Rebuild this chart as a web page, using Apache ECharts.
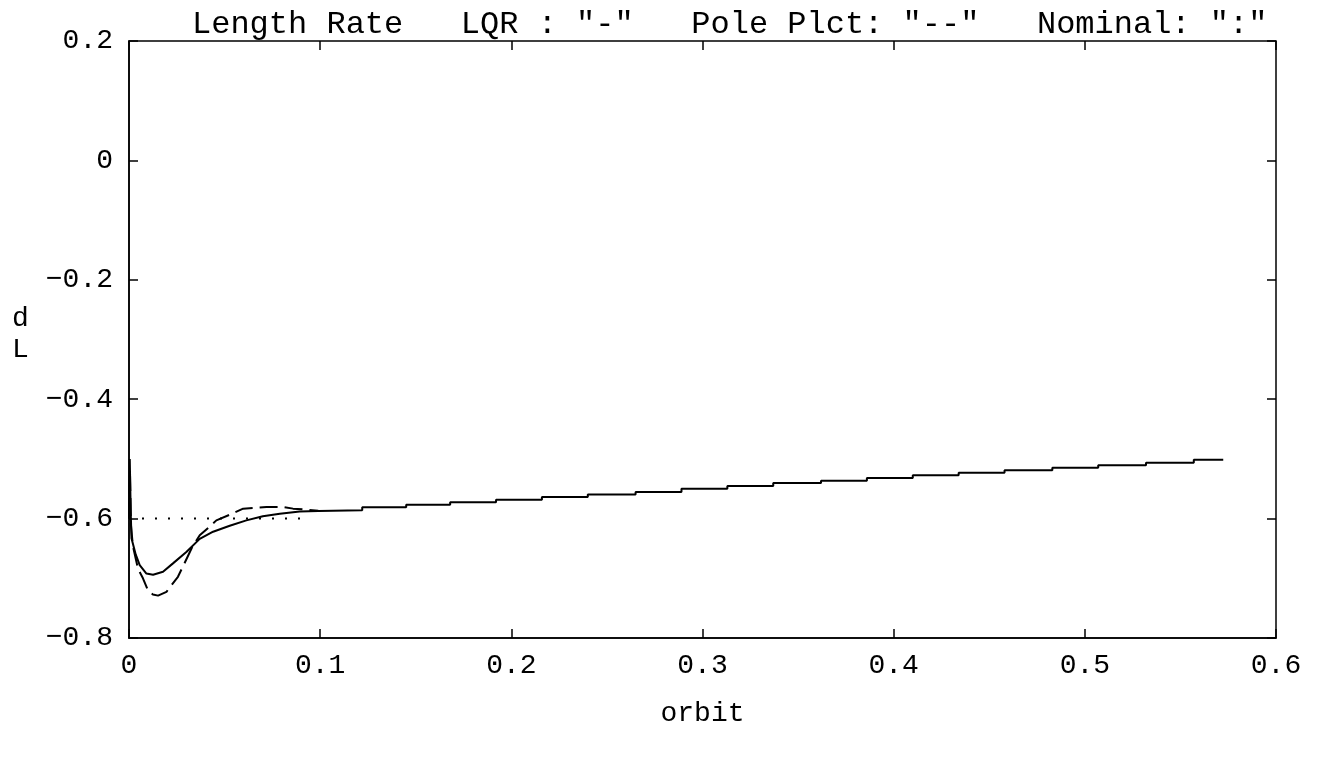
<!DOCTYPE html>
<html>
<head>
<meta charset="utf-8">
<script src="https://cdn.jsdelivr.net/npm/echarts@6/dist/echarts.min.js"></script>
<style>
  html, body { margin: 0; padding: 0; background: #fff; }
  #chart { width: 1317px; height: 759px; }
</style>
</head>
<body>
<div id="chart"></div>
<script>
// Axis ticks
const xTicks = [0, 0.1, 0.2, 0.3, 0.4, 0.5, 0.6];
const yTicks = [-0.8, -0.6, -0.4, -0.2, 0, 0.2];

// LQR response: initial transient (orbit, dL)
const lqrTransient = [
  [0, -0.60], [0.0004, -0.50], [0.0009, -0.59], [0.0013, -0.633],
  [0.0035, -0.660], [0.0056, -0.678], [0.0091, -0.692], [0.0126, -0.694],
  [0.0178, -0.689], [0.0230, -0.675], [0.0300, -0.656], [0.0370, -0.634],
  [0.0440, -0.622], [0.0527, -0.612], [0.0614, -0.603], [0.0700, -0.596],
  [0.0789, -0.592], [0.0893, -0.588], [0.0990, -0.5872]
];
// LQR response: stepped slow drift (step position, level after the step)
const stepX = [0.099, 0.122, 0.145, 0.168, 0.192, 0.216, 0.240, 0.265, 0.289, 0.313,
               0.337, 0.362, 0.386, 0.410, 0.434, 0.458, 0.483, 0.507, 0.532, 0.557];
const stepLevel = [-0.5862, -0.5811, -0.5766, -0.5728, -0.5683, -0.5640, -0.5597, -0.5554, -0.5499, -0.5454,
                   -0.5404, -0.5365, -0.5320, -0.5275, -0.5230, -0.5190, -0.5148, -0.5106, -0.5064, -0.5014];
const lqrEnd = 0.5724;

// Pole placement response
const polePlct = [
  [0, -0.60], [0.0005, -0.52], [0.0010, -0.61], [0.0020, -0.645],
  [0.0047, -0.684], [0.0073, -0.700], [0.0099, -0.720], [0.0125, -0.727],
  [0.0152, -0.729], [0.0196, -0.7226], [0.0256, -0.6975], [0.0290, -0.675],
  [0.0327, -0.650], [0.0370, -0.628], [0.0420, -0.614], [0.0457, -0.603],
  [0.0527, -0.5935], [0.0597, -0.5833], [0.0719, -0.5805], [0.0806, -0.5805],
  [0.0858, -0.5833], [0.0928, -0.585], [0.0990, -0.587]
];

// Nominal
const nominal = [[0, -0.60], [0.09, -0.60]];

// Build the LQR polyline: transient followed by horizontal runs and jumps
const lqr = lqrTransient.slice();
for (let i = 0; i < stepX.length; i++) {
  const prev = lqr[lqr.length - 1][1];
  lqr.push([stepX[i], prev]);
  lqr.push([stepX[i], stepLevel[i]]);
}
lqr.push([lqrEnd, stepLevel[stepLevel.length - 1]]);

const monoFont = '"Liberation Mono", "DejaVu Sans Mono", monospace';
const fmt = v => (Math.abs(v) < 1e-9 ? '0' : v.toFixed(1).replace('-', '\u2212'));

const chart = echarts.init(document.getElementById('chart'), null, { renderer: 'canvas' });

const tickStyle = { inside: true, length: 9, lineStyle: { color: '#000', width: 1.5 } };

chart.setOption({
  animation: false,
  backgroundColor: '#fff',
  title: {
    text: 'Length Rate   LQR : "-"   Pole Plct: "--"   Nominal: ":"',
    left: 187, top: 4,
    textStyle: { fontFamily: monoFont, fontSize: 32, fontWeight: 'normal', color: '#000' }
  },
  graphic: [
    { type: 'text', left: 12, top: 305, style: { text: 'd', font: '28px ' + monoFont, fill: '#000' } },
    { type: 'text', left: 12, top: 336, style: { text: 'L', font: '28px ' + monoFont, fill: '#000' } }
  ],
  grid: { left: 129, right: 41, top: 41, bottom: 121, show: true, borderColor: '#000', borderWidth: 1.5, backgroundColor: 'transparent' },
  xAxis: [
    {
      type: 'value', min: xTicks[0], max: xTicks[xTicks.length - 1], interval: 0.1,
      name: 'orbit', nameLocation: 'middle', nameGap: 62,
      nameTextStyle: { fontFamily: monoFont, fontSize: 28, color: '#000' },
      axisLine: { show: true, onZero: false, lineStyle: { color: '#000', width: 1.5 } },
      axisTick: tickStyle,
      axisLabel: { formatter: fmt, fontFamily: monoFont, fontSize: 28, color: '#000', margin: 14 },
      splitLine: { show: false }
    },
    {
      type: 'value', position: 'top', min: xTicks[0], max: xTicks[xTicks.length - 1], interval: 0.1,
      axisLine: { show: false, onZero: false }, axisTick: tickStyle, axisLabel: { show: false }, splitLine: { show: false }
    }
  ],
  yAxis: [
    {
      type: 'value', min: yTicks[0], max: yTicks[yTicks.length - 1], interval: 0.2,
      axisLine: { show: true, onZero: false, lineStyle: { color: '#000', width: 1.5 } },
      axisTick: tickStyle,
      axisLabel: { formatter: fmt, fontFamily: monoFont, fontSize: 28, color: '#000', margin: 16 },
      splitLine: { show: false }
    },
    {
      type: 'value', position: 'right', min: yTicks[0], max: yTicks[yTicks.length - 1], interval: 0.2,
      axisLine: { show: false, onZero: false }, axisTick: tickStyle, axisLabel: { show: false }, splitLine: { show: false }
    }
  ],
  series: [
    {
      name: 'Nominal', type: 'line', data: nominal, showSymbol: false, silent: true,
      lineStyle: { color: '#000', width: 2, type: [2, 11] }
    },
    {
      name: 'Pole Plct', type: 'line', data: polePlct, showSymbol: false, silent: true,
      lineStyle: { color: '#000', width: 2, type: [18, 7] }
    },
    {
      name: 'LQR', type: 'line', data: lqr, showSymbol: false, silent: true,
      lineStyle: { color: '#000', width: 2 }
    }
  ]
});
</script>
</body>
</html>
